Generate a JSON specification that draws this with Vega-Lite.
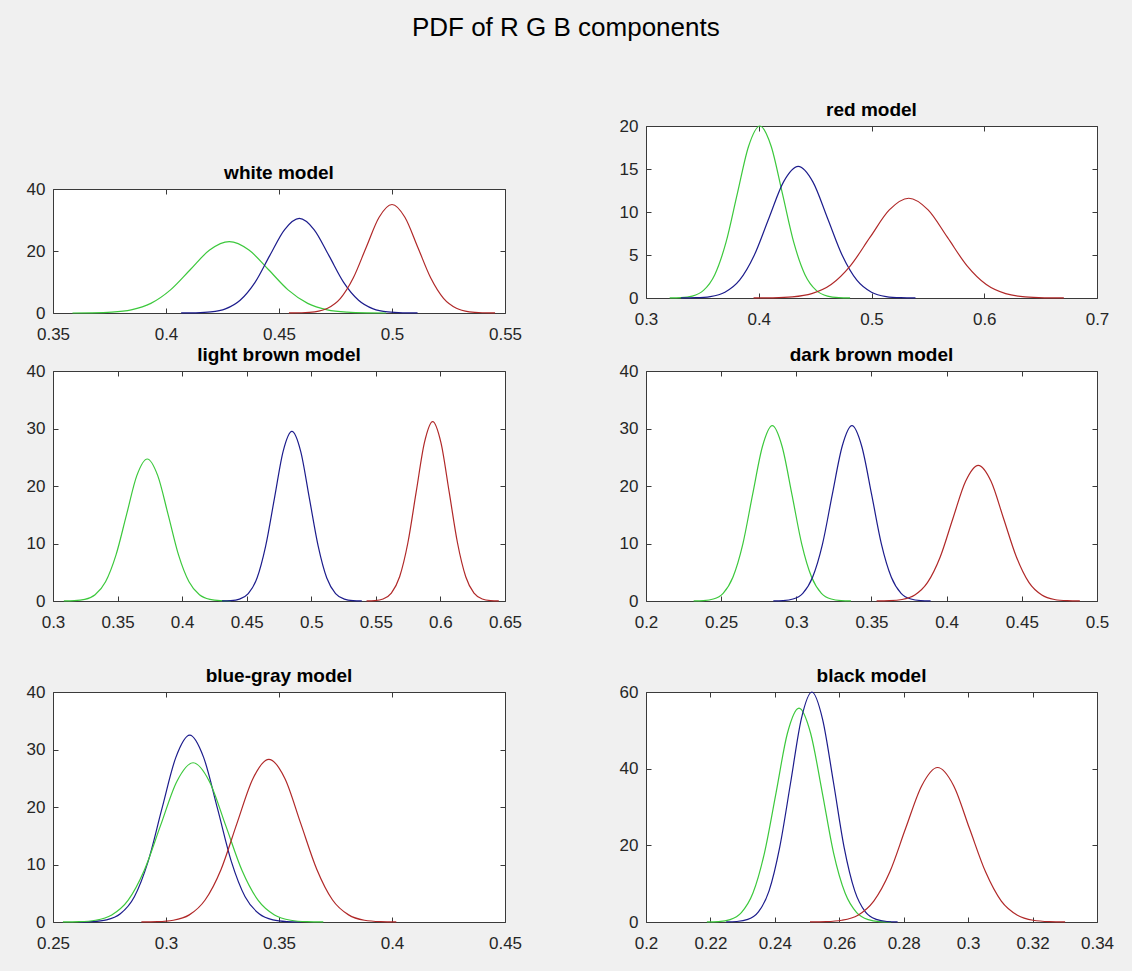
{
 "$schema": "https://vega.github.io/schema/vega-lite/v6.json",
 "background": "#f0f0f0",
 "padding": {"left": 25, "top": 14, "right": 17, "bottom": 19},
 "title": {"text": "PDF of R G B components", "fontSize": 26, "fontWeight": "normal", "offset": 60, "anchor": "middle", "frame": "bounds", "dx": -4},
 "config": {
  "view": {"stroke": "#3a3a3a", "strokeWidth": 1, "fill": "#ffffff"},
  "font": "Liberation Sans",
  "axis": {"grid": false, "domain": false, "ticks": true, "tickSize": -5, "tickColor": "#3a3a3a", "tickWidth": 1, "labelFont": "Liberation Sans", "labelFontSize": 17, "labelColor": "#262626", "labelFlush": false, "labelOverlap": false, "labelBound": false},
  "axisBottom": {"labelPadding": 18},
  "axisLeft": {"labelPadding": 13},
  "title": {"font": "Liberation Sans", "fontSize": 19, "fontWeight": "bold", "color": "#000000", "frame": "group", "offset": -3, "anchor": "middle"}
 },
 "datasets": {
  "white": [
   {"c":"G","x":0.3586,"y":0.007},{"c":"G","x":0.3673,"y":0.05},{"c":"G","x":0.376,"y":0.26},{"c":"G","x":0.3846,"y":1.01},{"c":"G","x":0.3933,"y":3.11},{"c":"G","x":0.402,"y":7.47},{"c":"G","x":0.4107,"y":13.95},{"c":"G","x":0.4193,"y":20.3},{"c":"G","x":0.428,"y":23},{"c":"G","x":0.4367,"y":20.3},{"c":"G","x":0.4454,"y":13.95},{"c":"G","x":0.454,"y":7.47},{"c":"G","x":0.4627,"y":3.11},{"c":"G","x":0.4714,"y":1.01},{"c":"G","x":0.4801,"y":0.26},{"c":"G","x":0.4887,"y":0.05},{"c":"G","x":0.4974,"y":0.007},
   {"c":"B","x":0.4067,"y":0.009},{"c":"B","x":0.4132,"y":0.067},{"c":"B","x":0.4198,"y":0.34},{"c":"B","x":0.4263,"y":1.34},{"c":"B","x":0.4328,"y":4.13},{"c":"B","x":0.4394,"y":9.9},{"c":"B","x":0.4459,"y":18.5},{"c":"B","x":0.4525,"y":26.92},{"c":"B","x":0.459,"y":30.5},{"c":"B","x":0.4655,"y":26.92},{"c":"B","x":0.4721,"y":18.5},{"c":"B","x":0.4786,"y":9.9},{"c":"B","x":0.4852,"y":4.13},{"c":"B","x":0.4917,"y":1.34},{"c":"B","x":0.4982,"y":0.34},{"c":"B","x":0.5048,"y":0.067},{"c":"B","x":0.5113,"y":0.009},
   {"c":"R","x":0.4544,"y":0.011},{"c":"R","x":0.4601,"y":0.077},{"c":"R","x":0.4658,"y":0.39},{"c":"R","x":0.4715,"y":1.54},{"c":"R","x":0.4772,"y":4.74},{"c":"R","x":0.4829,"y":11.36},{"c":"R","x":0.4886,"y":21.23},{"c":"R","x":0.4943,"y":30.89},{"c":"R","x":0.5,"y":35},{"c":"R","x":0.5057,"y":30.89},{"c":"R","x":0.5114,"y":21.23},{"c":"R","x":0.5171,"y":11.36},{"c":"R","x":0.5228,"y":4.74},{"c":"R","x":0.5285,"y":1.54},{"c":"R","x":0.5342,"y":0.39},{"c":"R","x":0.5399,"y":0.077},{"c":"R","x":0.5456,"y":0.011}
  ],
  "red": [
   {"c":"G","x":0.321,"y":0.006},{"c":"G","x":0.331,"y":0.044},{"c":"G","x":0.341,"y":0.22},{"c":"G","x":0.351,"y":0.88},{"c":"G","x":0.361,"y":2.71},{"c":"G","x":0.371,"y":6.49},{"c":"G","x":0.381,"y":12.13},{"c":"G","x":0.391,"y":17.65},{"c":"G","x":0.401,"y":20},{"c":"G","x":0.411,"y":17.65},{"c":"G","x":0.421,"y":12.13},{"c":"G","x":0.431,"y":6.49},{"c":"G","x":0.441,"y":2.71},{"c":"G","x":0.451,"y":0.88},{"c":"G","x":0.461,"y":0.22},{"c":"G","x":0.471,"y":0.044},{"c":"G","x":0.481,"y":0.006},
   {"c":"B","x":0.331,"y":0.005},{"c":"B","x":0.344,"y":0.034},{"c":"B","x":0.357,"y":0.17},{"c":"B","x":0.37,"y":0.67},{"c":"B","x":0.383,"y":2.07},{"c":"B","x":0.396,"y":4.97},{"c":"B","x":0.409,"y":9.28},{"c":"B","x":0.422,"y":13.5},{"c":"B","x":0.435,"y":15.3},{"c":"B","x":0.448,"y":13.5},{"c":"B","x":0.461,"y":9.28},{"c":"B","x":0.474,"y":4.97},{"c":"B","x":0.487,"y":2.07},{"c":"B","x":0.5,"y":0.67},{"c":"B","x":0.513,"y":0.17},{"c":"B","x":0.526,"y":0.034},{"c":"B","x":0.539,"y":0.005},
   {"c":"R","x":0.3954,"y":0.0035},{"c":"R","x":0.4126,"y":0.026},{"c":"R","x":0.4298,"y":0.13},{"c":"R","x":0.447,"y":0.51},{"c":"R","x":0.4642,"y":1.57},{"c":"R","x":0.4814,"y":3.77},{"c":"R","x":0.4986,"y":7.04},{"c":"R","x":0.5158,"y":10.24},{"c":"R","x":0.533,"y":11.6},{"c":"R","x":0.5502,"y":10.24},{"c":"R","x":0.5674,"y":7.04},{"c":"R","x":0.5846,"y":3.77},{"c":"R","x":0.6018,"y":1.57},{"c":"R","x":0.619,"y":0.51},{"c":"R","x":0.6362,"y":0.13},{"c":"R","x":0.6534,"y":0.026},{"c":"R","x":0.6706,"y":0.0035}
  ],
  "lightbrown": [
   {"c":"G","x":0.3084,"y":0.007},{"c":"G","x":0.3165,"y":0.054},{"c":"G","x":0.3246,"y":0.27},{"c":"G","x":0.3326,"y":1.08},{"c":"G","x":0.3407,"y":3.34},{"c":"G","x":0.3488,"y":8.02},{"c":"G","x":0.3569,"y":14.98},{"c":"G","x":0.3649,"y":21.8},{"c":"G","x":0.373,"y":24.7},{"c":"G","x":0.3811,"y":21.8},{"c":"G","x":0.3892,"y":14.98},{"c":"G","x":0.3972,"y":8.02},{"c":"G","x":0.4053,"y":3.34},{"c":"G","x":0.4134,"y":1.08},{"c":"G","x":0.4215,"y":0.27},{"c":"G","x":0.4295,"y":0.054},{"c":"G","x":0.4376,"y":0.007},
   {"c":"B","x":0.4309,"y":0.009},{"c":"B","x":0.4377,"y":0.065},{"c":"B","x":0.4444,"y":0.33},{"c":"B","x":0.4512,"y":1.3},{"c":"B","x":0.458,"y":3.99},{"c":"B","x":0.4647,"y":9.58},{"c":"B","x":0.4715,"y":17.89},{"c":"B","x":0.4782,"y":26.03},{"c":"B","x":0.485,"y":29.5},{"c":"B","x":0.4918,"y":26.03},{"c":"B","x":0.4985,"y":17.89},{"c":"B","x":0.5053,"y":9.58},{"c":"B","x":0.512,"y":3.99},{"c":"B","x":0.5188,"y":1.3},{"c":"B","x":0.5256,"y":0.33},{"c":"B","x":0.5323,"y":0.065},{"c":"B","x":0.5391,"y":0.009},
   {"c":"R","x":0.5428,"y":0.009},{"c":"R","x":0.5492,"y":0.069},{"c":"R","x":0.5556,"y":0.35},{"c":"R","x":0.562,"y":1.37},{"c":"R","x":0.5684,"y":4.22},{"c":"R","x":0.5748,"y":10.13},{"c":"R","x":0.5812,"y":18.92},{"c":"R","x":0.5876,"y":27.53},{"c":"R","x":0.594,"y":31.2},{"c":"R","x":0.6004,"y":27.53},{"c":"R","x":0.6068,"y":18.92},{"c":"R","x":0.6132,"y":10.13},{"c":"R","x":0.6196,"y":4.22},{"c":"R","x":0.626,"y":1.37},{"c":"R","x":0.6324,"y":0.35},{"c":"R","x":0.6388,"y":0.069},{"c":"R","x":0.6452,"y":0.009}
  ],
  "darkbrown": [
   {"c":"G","x":0.2317,"y":0.009},{"c":"G","x":0.2382,"y":0.067},{"c":"G","x":0.2448,"y":0.34},{"c":"G","x":0.2513,"y":1.34},{"c":"G","x":0.2578,"y":4.13},{"c":"G","x":0.2644,"y":9.9},{"c":"G","x":0.2709,"y":18.5},{"c":"G","x":0.2775,"y":26.92},{"c":"G","x":0.284,"y":30.5},{"c":"G","x":0.2905,"y":26.92},{"c":"G","x":0.2971,"y":18.5},{"c":"G","x":0.3036,"y":9.9},{"c":"G","x":0.3102,"y":4.13},{"c":"G","x":0.3167,"y":1.34},{"c":"G","x":0.3232,"y":0.34},{"c":"G","x":0.3298,"y":0.067},{"c":"G","x":0.3363,"y":0.009},
   {"c":"B","x":0.2847,"y":0.009},{"c":"B","x":0.2912,"y":0.067},{"c":"B","x":0.2978,"y":0.34},{"c":"B","x":0.3043,"y":1.34},{"c":"B","x":0.3108,"y":4.13},{"c":"B","x":0.3174,"y":9.9},{"c":"B","x":0.3239,"y":18.5},{"c":"B","x":0.3305,"y":26.92},{"c":"B","x":0.337,"y":30.5},{"c":"B","x":0.3435,"y":26.92},{"c":"B","x":0.3501,"y":18.5},{"c":"B","x":0.3566,"y":9.9},{"c":"B","x":0.3632,"y":4.13},{"c":"B","x":0.3697,"y":1.34},{"c":"B","x":0.3762,"y":0.34},{"c":"B","x":0.3828,"y":0.067},{"c":"B","x":0.3893,"y":0.009},
   {"c":"R","x":0.3534,"y":0.007},{"c":"R","x":0.3619,"y":0.052},{"c":"R","x":0.3703,"y":0.26},{"c":"R","x":0.3788,"y":1.04},{"c":"R","x":0.3872,"y":3.19},{"c":"R","x":0.3957,"y":7.66},{"c":"R","x":0.4041,"y":14.31},{"c":"R","x":0.4126,"y":20.83},{"c":"R","x":0.421,"y":23.6},{"c":"R","x":0.4295,"y":20.83},{"c":"R","x":0.4379,"y":14.31},{"c":"R","x":0.4464,"y":7.66},{"c":"R","x":0.4548,"y":3.19},{"c":"R","x":0.4633,"y":1.04},{"c":"R","x":0.4717,"y":0.26},{"c":"R","x":0.4802,"y":0.052},{"c":"R","x":0.4886,"y":0.007}
  ],
  "bluegray": [
   {"c":"B","x":0.2614,"y":0.01},{"c":"B","x":0.2676,"y":0.072},{"c":"B","x":0.2737,"y":0.36},{"c":"B","x":0.2798,"y":1.43},{"c":"B","x":0.286,"y":4.4},{"c":"B","x":0.2921,"y":10.55},{"c":"B","x":0.2982,"y":19.71},{"c":"B","x":0.3044,"y":28.68},{"c":"B","x":0.3105,"y":32.5},{"c":"B","x":0.3166,"y":28.68},{"c":"B","x":0.3228,"y":19.71},{"c":"B","x":0.3289,"y":10.55},{"c":"B","x":0.335,"y":4.4},{"c":"B","x":0.3412,"y":1.43},{"c":"B","x":0.3473,"y":0.36},{"c":"B","x":0.3534,"y":0.072},{"c":"B","x":0.3596,"y":0.01},
   {"c":"G","x":0.2544,"y":0.008},{"c":"G","x":0.2616,"y":0.061},{"c":"G","x":0.2688,"y":0.31},{"c":"G","x":0.276,"y":1.22},{"c":"G","x":0.2832,"y":3.75},{"c":"G","x":0.2904,"y":8.99},{"c":"G","x":0.2976,"y":16.8},{"c":"G","x":0.3048,"y":24.45},{"c":"G","x":0.312,"y":27.7},{"c":"G","x":0.3192,"y":24.45},{"c":"G","x":0.3264,"y":16.8},{"c":"G","x":0.3336,"y":8.99},{"c":"G","x":0.3408,"y":3.75},{"c":"G","x":0.348,"y":1.22},{"c":"G","x":0.3552,"y":0.31},{"c":"G","x":0.3624,"y":0.061},{"c":"G","x":0.3696,"y":0.008},
   {"c":"R","x":0.2891,"y":0.008},{"c":"R","x":0.2962,"y":0.062},{"c":"R","x":0.3032,"y":0.31},{"c":"R","x":0.3103,"y":1.24},{"c":"R","x":0.3173,"y":3.83},{"c":"R","x":0.3244,"y":9.19},{"c":"R","x":0.3314,"y":17.16},{"c":"R","x":0.3385,"y":24.97},{"c":"R","x":0.3455,"y":28.3},{"c":"R","x":0.3526,"y":24.97},{"c":"R","x":0.3596,"y":17.16},{"c":"R","x":0.3667,"y":9.19},{"c":"R","x":0.3737,"y":3.83},{"c":"R","x":0.3808,"y":1.24},{"c":"R","x":0.3878,"y":0.31},{"c":"R","x":0.3949,"y":0.062},{"c":"R","x":0.4019,"y":0.008}
  ],
  "black": [
   {"c":"G","x":0.2189,"y":0.017},{"c":"G","x":0.2225,"y":0.12},{"c":"G","x":0.2261,"y":0.62},{"c":"G","x":0.2296,"y":2.45},{"c":"G","x":0.2332,"y":7.55},{"c":"G","x":0.2368,"y":18.12},{"c":"G","x":0.2404,"y":33.84},{"c":"G","x":0.2439,"y":49.24},{"c":"G","x":0.2475,"y":55.8},{"c":"G","x":0.2511,"y":49.24},{"c":"G","x":0.2547,"y":33.84},{"c":"G","x":0.2582,"y":18.12},{"c":"G","x":0.2618,"y":7.55},{"c":"G","x":0.2654,"y":2.45},{"c":"G","x":0.269,"y":0.62},{"c":"G","x":0.2725,"y":0.12},{"c":"G","x":0.2761,"y":0.017},
   {"c":"B","x":0.2249,"y":0.018},{"c":"B","x":0.2282,"y":0.13},{"c":"B","x":0.2316,"y":0.67},{"c":"B","x":0.2349,"y":2.63},{"c":"B","x":0.2382,"y":8.12},{"c":"B","x":0.2415,"y":19.48},{"c":"B","x":0.2449,"y":36.39},{"c":"B","x":0.2482,"y":52.95},{"c":"B","x":0.2515,"y":60},{"c":"B","x":0.2548,"y":52.95},{"c":"B","x":0.2582,"y":36.39},{"c":"B","x":0.2615,"y":19.48},{"c":"B","x":0.2648,"y":8.12},{"c":"B","x":0.2681,"y":2.63},{"c":"B","x":0.2715,"y":0.67},{"c":"B","x":0.2748,"y":0.13},{"c":"B","x":0.2781,"y":0.018},
   {"c":"R","x":0.2509,"y":0.012},{"c":"R","x":0.2559,"y":0.089},{"c":"R","x":0.2608,"y":0.45},{"c":"R","x":0.2658,"y":1.77},{"c":"R","x":0.2707,"y":5.45},{"c":"R","x":0.2757,"y":13.09},{"c":"R","x":0.2806,"y":24.44},{"c":"R","x":0.2856,"y":35.56},{"c":"R","x":0.2905,"y":40.3},{"c":"R","x":0.2955,"y":35.56},{"c":"R","x":0.3004,"y":24.44},{"c":"R","x":0.3054,"y":13.09},{"c":"R","x":0.3103,"y":5.45},{"c":"R","x":0.3153,"y":1.77},{"c":"R","x":0.3202,"y":0.45},{"c":"R","x":0.3252,"y":0.089},{"c":"R","x":0.3301,"y":0.012}
  ]
 },
 "spacing": 35,
 "vconcat": [
  {
   "spacing": 2,
   "vconcat": [
    {
     "spacing": 95,
     "hconcat": [
      {
       "spacing": 0,
       "vconcat": [
        {"width": 452, "height": 37, "data": {"values": []}, "mark": {"type": "point", "opacity": 0}, "encoding": {}, "view": {"stroke": null, "fill": null}},
        {
         "title": {"text": "white model"},
         "width": 452, "height": 124,
         "data": {"name": "white"},
         "layer": [
          {"mark": {"type": "line", "interpolate": "monotone", "strokeWidth": 1.2},
           "encoding": {
            "x": {"field": "x", "type": "quantitative", "scale": {"domain": [0.35, 0.55], "nice": false, "zero": false}, "axis": {"orient": "bottom", "values": [0.35, 0.4, 0.45, 0.5, 0.55], "format": ".2~f", "title": null}},
            "y": {"field": "y", "type": "quantitative", "scale": {"domain": [0, 40], "nice": false}, "axis": {"orient": "left", "values": [0, 20, 40], "format": "d", "title": null}},
            "color": {"field": "c", "type": "nominal", "scale": {"domain": ["R", "G", "B"], "range": ["#b02828", "#3cc83c", "#1c1c8c"]}, "legend": null}
           }},
          {"mark": {"type": "point", "opacity": 0},
           "encoding": {
            "x": {"field": "x", "type": "quantitative", "axis": {"orient": "top", "values": [0.35, 0.4, 0.45, 0.5, 0.55], "labels": false, "title": null}},
            "y": {"field": "y", "type": "quantitative", "axis": {"orient": "right", "values": [0, 20, 40], "labels": false, "title": null}}
           }}
         ],
         "resolve": {"axis": {"x": "independent", "y": "independent"}}
        }
       ]
      },
      {
       "title": {"text": "red model"},
       "width": 451, "height": 172,
       "data": {"name": "red"},
       "layer": [
        {"mark": {"type": "line", "interpolate": "monotone", "strokeWidth": 1.2},
         "encoding": {
          "x": {"field": "x", "type": "quantitative", "scale": {"domain": [0.3, 0.7], "nice": false, "zero": false}, "axis": {"orient": "bottom", "values": [0.3, 0.4, 0.5, 0.6, 0.7], "format": ".2~f", "title": null}},
          "y": {"field": "y", "type": "quantitative", "scale": {"domain": [0, 20], "nice": false}, "axis": {"orient": "left", "values": [0, 5, 10, 15, 20], "format": "d", "title": null}},
          "color": {"field": "c", "type": "nominal", "scale": {"domain": ["R", "G", "B"], "range": ["#b02828", "#3cc83c", "#1c1c8c"]}, "legend": null}
         }},
        {"mark": {"type": "point", "opacity": 0},
         "encoding": {
          "x": {"field": "x", "type": "quantitative", "axis": {"orient": "top", "values": [0.3, 0.4, 0.5, 0.6, 0.7], "labels": false, "title": null}},
          "y": {"field": "y", "type": "quantitative", "axis": {"orient": "right", "values": [0, 5, 10, 15, 20], "labels": false, "title": null}}
         }}
       ],
       "resolve": {"axis": {"x": "independent", "y": "independent"}}
      }
     ]
    },
    {
     "spacing": 95,
     "hconcat": [
      {
       "title": {"text": "light brown model"},
       "width": 452, "height": 230,
       "data": {"name": "lightbrown"},
       "layer": [
        {"mark": {"type": "line", "interpolate": "monotone", "strokeWidth": 1.2},
         "encoding": {
          "x": {"field": "x", "type": "quantitative", "scale": {"domain": [0.3, 0.65], "nice": false, "zero": false}, "axis": {"orient": "bottom", "values": [0.3, 0.35, 0.4, 0.45, 0.5, 0.55, 0.6, 0.65], "format": ".2~f", "title": null}},
          "y": {"field": "y", "type": "quantitative", "scale": {"domain": [0, 40], "nice": false}, "axis": {"orient": "left", "values": [0, 10, 20, 30, 40], "format": "d", "title": null}},
          "color": {"field": "c", "type": "nominal", "scale": {"domain": ["R", "G", "B"], "range": ["#b02828", "#3cc83c", "#1c1c8c"]}, "legend": null}
         }},
        {"mark": {"type": "point", "opacity": 0},
         "encoding": {
          "x": {"field": "x", "type": "quantitative", "axis": {"orient": "top", "values": [0.3, 0.35, 0.4, 0.45, 0.5, 0.55, 0.6, 0.65], "labels": false, "title": null}},
          "y": {"field": "y", "type": "quantitative", "axis": {"orient": "right", "values": [0, 10, 20, 30, 40], "labels": false, "title": null}}
         }}
       ],
       "resolve": {"axis": {"x": "independent", "y": "independent"}}
      },
      {
       "title": {"text": "dark brown model"},
       "width": 451, "height": 230,
       "data": {"name": "darkbrown"},
       "layer": [
        {"mark": {"type": "line", "interpolate": "monotone", "strokeWidth": 1.2},
         "encoding": {
          "x": {"field": "x", "type": "quantitative", "scale": {"domain": [0.2, 0.5], "nice": false, "zero": false}, "axis": {"orient": "bottom", "values": [0.2, 0.25, 0.3, 0.35, 0.4, 0.45, 0.5], "format": ".2~f", "title": null}},
          "y": {"field": "y", "type": "quantitative", "scale": {"domain": [0, 40], "nice": false}, "axis": {"orient": "left", "values": [0, 10, 20, 30, 40], "format": "d", "title": null}},
          "color": {"field": "c", "type": "nominal", "scale": {"domain": ["R", "G", "B"], "range": ["#b02828", "#3cc83c", "#1c1c8c"]}, "legend": null}
         }},
        {"mark": {"type": "point", "opacity": 0},
         "encoding": {
          "x": {"field": "x", "type": "quantitative", "axis": {"orient": "top", "values": [0.2, 0.25, 0.3, 0.35, 0.4, 0.45, 0.5], "labels": false, "title": null}},
          "y": {"field": "y", "type": "quantitative", "axis": {"orient": "right", "values": [0, 10, 20, 30, 40], "labels": false, "title": null}}
         }}
       ],
       "resolve": {"axis": {"x": "independent", "y": "independent"}}
      }
     ]
    }
   ]
  },
  {
   "spacing": 95,
   "hconcat": [
    {
     "title": {"text": "blue-gray model"},
     "width": 452, "height": 230,
     "data": {"name": "bluegray"},
     "layer": [
      {"mark": {"type": "line", "interpolate": "monotone", "strokeWidth": 1.2},
       "encoding": {
        "x": {"field": "x", "type": "quantitative", "scale": {"domain": [0.25, 0.45], "nice": false, "zero": false}, "axis": {"orient": "bottom", "values": [0.25, 0.3, 0.35, 0.4, 0.45], "format": ".2~f", "title": null}},
        "y": {"field": "y", "type": "quantitative", "scale": {"domain": [0, 40], "nice": false}, "axis": {"orient": "left", "values": [0, 10, 20, 30, 40], "format": "d", "title": null}},
        "color": {"field": "c", "type": "nominal", "scale": {"domain": ["R", "G", "B"], "range": ["#b02828", "#3cc83c", "#1c1c8c"]}, "legend": null}
       }},
      {"mark": {"type": "point", "opacity": 0},
       "encoding": {
        "x": {"field": "x", "type": "quantitative", "axis": {"orient": "top", "values": [0.25, 0.3, 0.35, 0.4, 0.45], "labels": false, "title": null}},
        "y": {"field": "y", "type": "quantitative", "axis": {"orient": "right", "values": [0, 10, 20, 30, 40], "labels": false, "title": null}}
       }}
     ],
     "resolve": {"axis": {"x": "independent", "y": "independent"}}
    },
    {
     "title": {"text": "black model"},
     "width": 451, "height": 230,
     "data": {"name": "black"},
     "layer": [
      {"mark": {"type": "line", "interpolate": "monotone", "strokeWidth": 1.2},
       "encoding": {
        "x": {"field": "x", "type": "quantitative", "scale": {"domain": [0.2, 0.34], "nice": false, "zero": false}, "axis": {"orient": "bottom", "values": [0.2, 0.22, 0.24, 0.26, 0.28, 0.3, 0.32, 0.34], "format": ".2~f", "title": null}},
        "y": {"field": "y", "type": "quantitative", "scale": {"domain": [0, 60], "nice": false}, "axis": {"orient": "left", "values": [0, 20, 40, 60], "format": "d", "title": null}},
        "color": {"field": "c", "type": "nominal", "scale": {"domain": ["R", "G", "B"], "range": ["#b02828", "#3cc83c", "#1c1c8c"]}, "legend": null}
       }},
      {"mark": {"type": "point", "opacity": 0},
       "encoding": {
        "x": {"field": "x", "type": "quantitative", "axis": {"orient": "top", "values": [0.2, 0.22, 0.24, 0.26, 0.28, 0.3, 0.32, 0.34], "labels": false, "title": null}},
        "y": {"field": "y", "type": "quantitative", "axis": {"orient": "right", "values": [0, 20, 40, 60], "labels": false, "title": null}}
       }}
     ],
     "resolve": {"axis": {"x": "independent", "y": "independent"}}
    }
   ]
  }
 ]
}
